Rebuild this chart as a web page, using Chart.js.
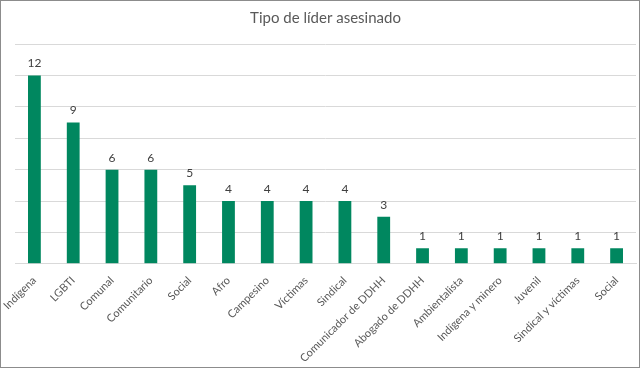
<!DOCTYPE html>
<html>
<head>
<meta charset="utf-8">
<script src="https://cdn.jsdelivr.net/npm/chart.js@4"></script>
<style>
    html, body { margin: 0; padding: 0; background: #fff; }
    #box {
        width: 638px;
        height: 366px;
        border: 1px solid #8c8c8c;
        position: relative;
    }
</style>
</head>
<body>
<div id="box"><canvas id="chart"></canvas></div>
<script>
const TITULO = "Tipo de líder asesinado";
const TIPOS = [
    "Indígena",
    "LGBTI",
    "Comunal",
    "Comunitario",
    "Social",
    "Afro",
    "Campesino",
    "Víctimas",
    "Sindical",
    "Comunicador de DDHH",
    "Abogado de DDHH",
    "Ambientalista",
    "Indígena y minero",
    "Juvenil",
    "Sindical y víctimas",
    "Social"
];
const ASESINADOS = [12, 9, 6, 6, 5, 4, 4, 4, 4, 3, 1, 1, 1, 1, 1, 1];
const Y_MAX = 14;
const Y_PASO = 2;

const FONTE = "Lato, 'Open Sans', sans-serif";
const VERDE = "#00875f";

// rotulos de dados em cima de cada barra
const rotulosPlugin = {
    id: "rotulos",
    afterDatasetsDraw(chart) {
        const ctx = chart.ctx;
        const meta = chart.getDatasetMeta(0);
        ctx.save();
        ctx.font = "12px " + FONTE;
        ctx.fillStyle = "#404040";
        ctx.textAlign = "center";
        ctx.textBaseline = "bottom";
        meta.data.forEach((bar, i) => {
            ctx.fillText(String(ASESINADOS[i]), bar.x, bar.y - 6);
        });
        ctx.restore();
    }
};

document.addEventListener("DOMContentLoaded", () => {
    const ctx = document.getElementById("chart");
    new Chart(ctx, {
        type: "bar",
        data: {
            labels: TIPOS,
            datasets: [
                {
                    label: "Asesinados",
                    data: ASESINADOS,
                    backgroundColor: VERDE,
                    categoryPercentage: 1,
                    barPercentage: 0.33
                }
            ]
        },
        plugins: [rotulosPlugin],
        options: {
            responsive: true,
            maintainAspectRatio: false,
            animation: false,
            layout: {
                padding: { left: 14, right: 3, top: 0, bottom: 0 }
            },
            plugins: {
                legend: { display: false },
                tooltip: { enabled: false },
                title: {
                    display: true,
                    text: TITULO,
                    color: "#595959",
                    font: { family: FONTE, size: 15, weight: "normal" },
                    padding: { top: 8, bottom: 17 }
                }
            },
            scales: {
                x: {
                    grid: { display: false },
                    border: { display: true, color: "#d9d9d9" },
                    ticks: {
                        color: "#595959",
                        font: { family: FONTE, size: 11 },
                        maxRotation: 45,
                        minRotation: 45,
                        autoSkip: false,
                        padding: 2
                    }
                },
                y: {
                    min: 0,
                    max: Y_MAX,
                    ticks: { display: false, stepSize: Y_PASO },
                    grid: { color: "#d9d9d9", drawTicks: false },
                    border: { display: false }
                }
            }
        }
    });
});
</script>
</body>
</html>
